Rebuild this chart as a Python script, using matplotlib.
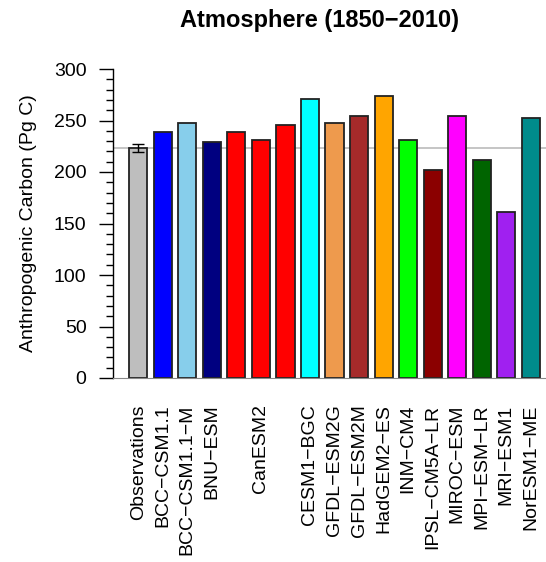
import matplotlib
matplotlib.use("Agg")
import matplotlib.pyplot as plt
from matplotlib.ticker import MultipleLocator

plt.rcParams['font.family'] = ['Liberation Sans', 'DejaVu Sans']

# model names (CanESM2 has three bars, label only on the middle one)
labels = ['Observations', 'BCC\u2212CSM1.1', 'BCC\u2212CSM1.1\u2212M', 'BNU\u2212ESM',
          '', 'CanESM2', '', 'CESM1\u2212BGC', 'GFDL\u2212ESM2G', 'GFDL\u2212ESM2M',
          'HadGEM2\u2212ES', 'INM\u2212CM4', 'IPSL\u2212CM5A\u2212LR', 'MIROC\u2212ESM',
          'MPI\u2212ESM\u2212LR', 'MRI\u2212ESM1', 'NorESM1\u2212ME']
carbon = [223, 239, 248, 229, 239, 231, 246, 271, 248, 254, 274, 231, 202, 254, 212, 161, 252]
obs_err = 4
colors = ['#BEBEBE', '#0000FF', '#87CEEB', '#000080', '#FF0000', '#FF0000', '#FF0000',
          '#00FFFF', '#EE9A4D', '#A52A2A', '#FFA500', '#00FF00', '#8B0000', '#FF00FF',
          '#006400', '#A020F0', '#008B8B']

W, H = 546, 562
fig = plt.figure(figsize=(W / 100, H / 100), dpi=100)
ax = fig.add_axes([113 / W, 1 - 378 / H, 1 - 113 / W, (378 - 69) / H])

x = list(range(len(carbon)))
ax.bar(x, carbon, width=0.74, color=colors, edgecolor='#222222', linewidth=1.3, zorder=3)
ax.errorbar([0], [carbon[0]], yerr=obs_err, fmt='none', ecolor='black',
            elinewidth=1, capsize=4.5, capthick=1, zorder=4)
ax.axhline(carbon[0], color='#BBBBBB', linewidth=1.2, zorder=2)

ax.set_xlim(-1.03, 16.62)
ax.set_ylim(0, 300)
ax.set_xticks(x)
ax.set_xticklabels(labels, rotation=90, fontsize=14, va='top', ha='center')
ax.tick_params(axis='x', length=0, pad=19)
ax.yaxis.set_major_locator(MultipleLocator(50))
ax.yaxis.set_minor_locator(MultipleLocator(10))
ax.tick_params(axis='y', which='major', length=10, width=1, labelsize=14, pad=9, direction='out')
ax.tick_params(axis='y', which='minor', length=5, width=1, direction='out')

for s in ['top', 'right']:
    ax.spines[s].set_visible(False)
ax.spines['bottom'].set_color('#888888')
ax.spines['bottom'].set_zorder(5)
ax.spines['left'].set_linewidth(1)

ax.set_ylabel('Anthropogenic Carbon (Pg C)', fontsize=14, labelpad=12)
fig.text(319 / W, 1 - 20 / H, 'Atmosphere (1850\u22122010)', fontsize=17,
         fontweight='bold', ha='center', va='center')

fig.savefig('out.png', dpi=100)
